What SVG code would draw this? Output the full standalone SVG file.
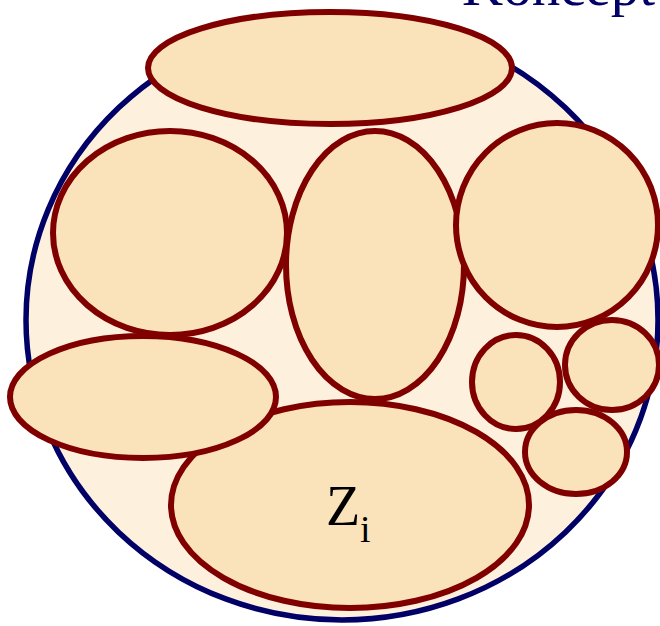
<svg xmlns="http://www.w3.org/2000/svg" width="660" height="626" viewBox="0 0 660 626">
<style>
.outer{fill:#FDF0DD;stroke:#000066;stroke-width:5.5}
.cell{fill:#FAE3BB;stroke:#800000;stroke-width:6}
.title{font-family:"Liberation Serif","Times New Roman",serif;fill:#000066}
.lbl{font-family:"Liberation Serif","Times New Roman",serif;fill:#000000}
</style>
<rect width="660" height="626" fill="#FFFFFF"/>
<text class="title" x="462" y="5" font-size="57">Koncept</text>
<g id="universe"><ellipse class="outer" cx="342" cy="320" rx="316" ry="300"/></g>
<g id="zi"><ellipse class="cell" cx="350" cy="505" rx="179" ry="103"/>
<text class="lbl" x="326" y="525" font-size="56">Z</text><text class="lbl" x="360" y="542" font-size="38">i</text></g>
<g id="top"><ellipse class="cell" cx="330" cy="68" rx="182" ry="56"/></g>
<g id="left-top"><ellipse class="cell" cx="170" cy="233" rx="117" ry="102"/></g>
<g id="left-lower"><ellipse class="cell" cx="143" cy="397" rx="133" ry="61"/></g>
<g id="middle"><ellipse class="cell" cx="375" cy="265" rx="89" ry="134"/></g>
<g id="right"><ellipse class="cell" cx="557" cy="225" rx="101" ry="102"/></g>
<g id="small1"><ellipse class="cell" cx="516" cy="382" rx="44" ry="47"/></g>
<g id="small2"><ellipse class="cell" cx="612" cy="365" rx="47" ry="45"/></g>
<g id="small3"><ellipse class="cell" cx="576" cy="452" rx="51" ry="42"/></g>
<g id="connectors"/>
</svg>
